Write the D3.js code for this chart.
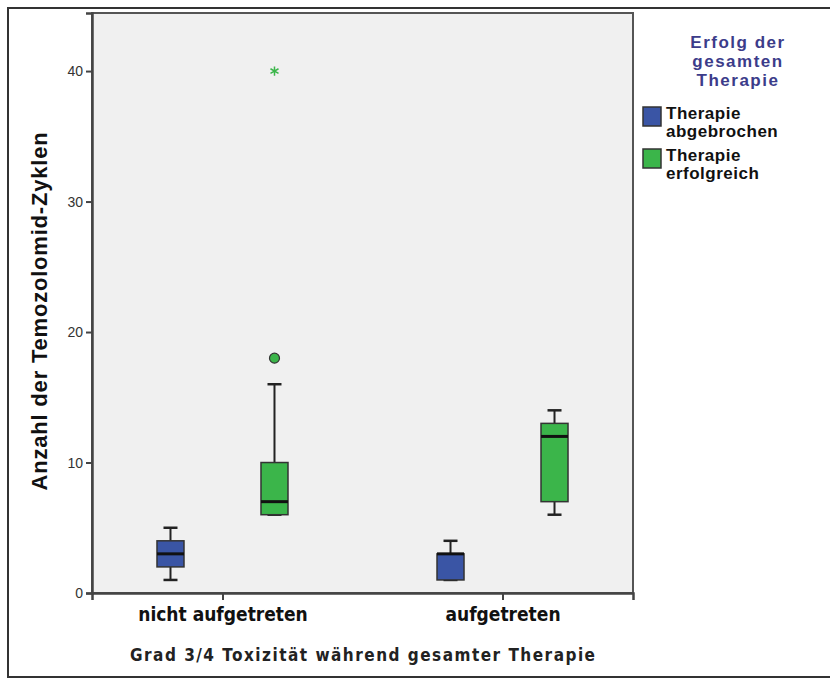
<!DOCTYPE html>
<html>
<head>
<meta charset="utf-8">
<script src="https://cdn.jsdelivr.net/npm/d3@7"></script>
<style>
body{margin:0;background:#fff;}
svg text{font-family:"DejaVu Sans Condensed","Liberation Sans Narrow","Liberation Sans",sans-serif;}
</style>
</head>
<body>
<script>
// data
var groups = ["nicht aufgetreten", "aufgetreten"];
var series = ["Therapie abgebrochen", "Therapie erfolgreich"];
var seriesColors = ["#3a55a5", "#3bb54a"];
// [min, q1, median, q3, max] per group, per series
var blueStats = [[1, 2, 3, 4, 5], [1, 1, 3, 3, 4]];
var greenStats = [[6, 6, 7, 10, 16], [6, 7, 12, 13, 14]];
var outliers = [{g: 0, s: 1, v: 18, kind: "circle"}, {g: 0, s: 1, v: 40, kind: "star"}];
var yTicks = [0, 10, 20, 30, 40];

var W = 830, H = 680;
var margin = {left: 92, right: 197, top: 13, bottom: 87};
var width = W - margin.left - margin.right;//plot width
var height = H - margin.top - margin.bottom;//plot height

var svg = d3.select("body").append("svg")
    .attr("width", W).attr("height", H);

// outer frame
svg.append("rect").attr("x", 8).attr("y", 8).attr("width", W).attr("height", 669)
    .attr("fill", "#fff").attr("stroke", "#333").attr("stroke-width", 2);

var g = svg.append("g").attr("transform", "translate(" + margin.left + "," + margin.top + ")");

var x = d3.scalePoint().domain(groups).range([0, width]).padding(0.466);
var sub = d3.scalePoint().domain(series).range([-52, 52]);
var y = d3.scaleLinear().domain([0, 44.45]).range([height, 0]);

g.append("rect").attr("width", width).attr("height", height)
    .attr("fill", "#f0f0f0").attr("stroke", "#555").attr("stroke-width", 2);

// y axis
var yAxis = d3.axisLeft(y).tickValues(yTicks).tickSize(6).tickPadding(3);
var ya = g.append("g").call(yAxis);
ya.select(".domain").attr("stroke", "#444").attr("stroke-width", 2.5);
ya.selectAll(".tick line").attr("stroke", "#444").attr("stroke-width", 2);
ya.selectAll(".tick text").attr("font-size", 14).attr("fill", "#333")
    .style("font-family", "'Liberation Sans',Arial,sans-serif");

// x axis
var xAxis = d3.axisBottom(x).tickSize(7).tickPadding(5);
var xa = g.append("g").attr("transform", "translate(0," + height + ")").call(xAxis);
xa.select(".domain").attr("stroke", "#444").attr("stroke-width", 2.5);
xa.selectAll(".tick text").attr("font-size", 19).attr("font-weight", "bold").attr("fill", "#111")
    .attr("dy", "0.85em");
xa.selectAll(".tick line").attr("stroke", "#444").attr("stroke-width", 2);

// boxes
var bw = 27, cap = 14;
var boxes = [];
groups.forEach(function(gr, i){
    boxes.push({g: gr, s: series[0], c: seriesColors[0], v: blueStats[i]});
    boxes.push({g: gr, s: series[1], c: seriesColors[1], v: greenStats[i]});
});

boxes.forEach(function(b){
    var cx = x(b.g) + sub(b.s);
    var bx = g.append("g");
    // whiskers
    bx.append("line").attr("x1", cx).attr("x2", cx).attr("y1", y(b.v[0])).attr("y2", y(b.v[1]))
        .attr("stroke", "#222").attr("stroke-width", 2);
    bx.append("line").attr("x1", cx).attr("x2", cx).attr("y1", y(b.v[3])).attr("y2", y(b.v[4]))
        .attr("stroke", "#222").attr("stroke-width", 2);
    [b.v[0], b.v[4]].forEach(function(v){
        bx.append("line").attr("x1", cx - cap / 2).attr("x2", cx + cap / 2).attr("y1", y(v)).attr("y2", y(v))
            .attr("stroke", "#222").attr("stroke-width", 2.5);
    });
    bx.append("rect").attr("x", cx - bw / 2).attr("y", y(b.v[3])).attr("width", bw)
        .attr("height", y(b.v[1]) - y(b.v[3]))
        .attr("fill", b.c).attr("stroke", "#333").attr("stroke-width", 1.5);
    bx.append("line").attr("x1", cx - bw / 2).attr("x2", cx + bw / 2).attr("y1", y(b.v[2])).attr("y2", y(b.v[2]))
        .attr("stroke", "#111").attr("stroke-width", 3);
});

// outliers
outliers.forEach(function(o){
    var cx = x(groups[o.g]) + sub(series[o.s]);
    if(o.kind == "circle"){
        g.append("circle").attr("cx", cx).attr("cy", y(o.v)).attr("r", 5)
            .attr("fill", seriesColors[o.s]).attr("stroke", "#333").attr("stroke-width", 1.2);
    } else {
        g.append("path").attr("d", d3.symbol(d3.symbolAsterisk, 60)())
            .attr("transform", "translate(" + cx + "," + y(o.v) + ")")
            .attr("stroke", seriesColors[o.s]).attr("stroke-width", 1.5).attr("fill", "none");
    }
});

// axis titles
svg.append("text").attr("transform", "translate(47," + (margin.top + height / 2 + 8) + ") rotate(-90)")
    .attr("text-anchor", "middle").attr("font-size", 22).attr("font-weight", "bold").attr("fill", "#111")
    .attr("letter-spacing", 0.8)
    .style("font-family", "'Liberation Sans',Arial,sans-serif")
    .text("Anzahl der Temozolomid-Zyklen");
svg.append("text").attr("x", 130).attr("y", 661)
    .attr("font-size", 17).attr("font-weight", "bold").attr("fill", "#222")
    .attr("textLength", 465).attr("lengthAdjust", "spacing")
    .text("Grad 3/4 Toxizität während gesamter Therapie");

// legend
var lt = ["Erfolg der", "gesamten", "Therapie"];
lt.forEach(function(t, i){
    svg.append("text").attr("x", 738).attr("y", 48 + i * 19).attr("text-anchor", "middle")
        .attr("font-size", 17).attr("font-weight", "bold").attr("fill", "#3c3c8a")
        .attr("letter-spacing", 1.5)
        .style("font-family", "'Liberation Sans',Arial,sans-serif")
        .text(t);
});
var leg = svg.append("g").attr("transform", "translate(643,107)");
series.forEach(function(s, i){
    var row = leg.append("g").attr("transform", "translate(0," + i * 42 + ")");
    row.append("rect").attr("width", 18).attr("height", 19).attr("fill", seriesColors[i])
        .attr("stroke", "#333").attr("stroke-width", 1.5);
    var words = s.split(" ");
    words.forEach(function(w, j){
        row.append("text").attr("x", 23).attr("y", 12 + j * 18).attr("font-size", 17)
            .attr("font-weight", "bold").attr("fill", "#111").attr("letter-spacing", 0.5)
            .style("font-family", "'Liberation Sans',Arial,sans-serif")
            .text(w);
    });
});
</script>
</body>
</html>
